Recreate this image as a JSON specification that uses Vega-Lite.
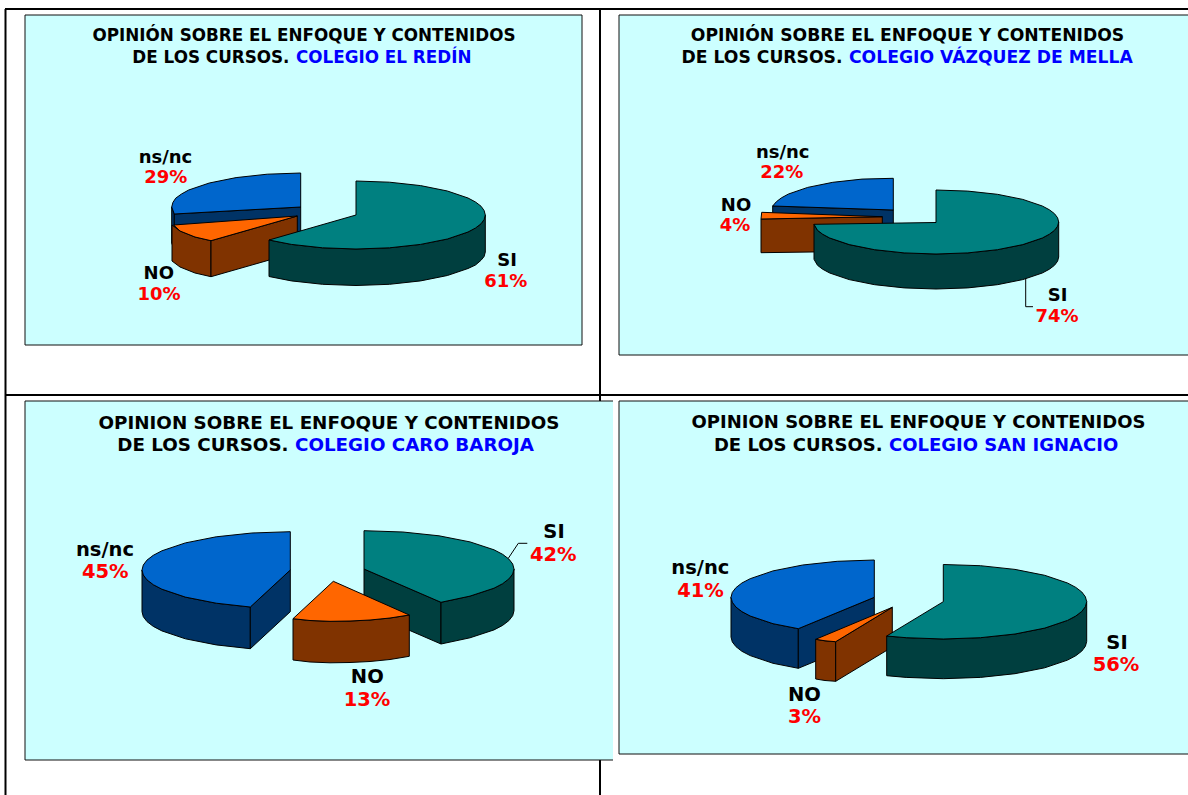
{"$schema":"https://vega.github.io/schema/vega-lite/v6.json","width":1188,"height":795,"autosize":{"type":"fit","contains":"padding"},"padding":0,"background":"#ffffff","config":{"view":{"stroke":null}},"resolve":{"scale":{"size":"independent"}},
"datasets":{
"grid":[{"x":5.5,"y":9,"x2":5.5,"y2":795},{"x":5,"y":9,"x2":1188,"y2":9},{"x":600,"y":9,"x2":600,"y2":402},{"x":5,"y":395,"x2":1188,"y2":395},{"x":600,"y":760,"x2":600,"y2":795}],
"panels":[{"panel":"El Redín","x":25,"y":15,"x2":582,"y2":345},{"panel":"Vázquez de Mella","x":619,"y":15,"x2":1188,"y2":355},{"panel":"Caro Baroja","x":25,"y":401,"x2":613,"y2":760},{"panel":"San Ignacio","x":619,"y":401,"x2":1188,"y2":754}],
"edges":[{"x":25,"y":15,"x2":582,"y2":15},{"x":582,"y":15,"x2":582,"y2":345},{"x":25,"y":345,"x2":582,"y2":345},{"x":25,"y":15,"x2":25,"y2":345},{"x":619,"y":15,"x2":1188,"y2":15},{"x":619,"y":15,"x2":619,"y2":355},{"x":619,"y":355,"x2":1188,"y2":355},{"x":25,"y":401,"x2":613,"y2":401},{"x":25,"y":401,"x2":25,"y2":760},{"x":25,"y":760,"x2":613,"y2":760},{"x":619,"y":401,"x2":1188,"y2":401},{"x":619,"y":401,"x2":619,"y2":754},{"x":619,"y":754,"x2":1188,"y2":754}],
"leaders":[{"x":1025.7,"y":278.3,"x2":1025.7,"y2":306.7},{"x":1025.7,"y":306.7,"x2":1033,"y2":306.7},{"x":508.3,"y":558.3,"x2":518.3,"y2":543.3},{"x":518.3,"y":543.3,"x2":527.3,"y2":543.3}],
"shapes":[
{"id":"A1","part":"ns/nc lado","o":1,"x":171.7,"y":207},{"id":"A1","part":"ns/nc lado","o":2,"x":174.3,"y":214},{"id":"A1","part":"ns/nc lado","o":3,"x":174.3,"y":250},{"id":"A1","part":"ns/nc lado","o":4,"x":171.7,"y":243},
{"id":"A2","part":"ns/nc lado","o":1,"x":174.3,"y":214},{"id":"A2","part":"ns/nc lado","o":2,"x":300.7,"y":207},{"id":"A2","part":"ns/nc lado","o":3,"x":300.7,"y":243},{"id":"A2","part":"ns/nc lado","o":4,"x":174.3,"y":250},
{"id":"A3","part":"ns/nc","o":1,"x":300.7,"y":207},{"id":"A3","part":"ns/nc","o":2,"x":300.7,"y":173},{"id":"A3","part":"ns/nc","o":3,"x":267.2,"y":174.2},{"id":"A3","part":"ns/nc","o":4,"x":236.1,"y":177.6},{"id":"A3","part":"ns/nc","o":5,"x":209.3,"y":183},{"id":"A3","part":"ns/nc","o":6,"x":188.7,"y":190},{"id":"A3","part":"ns/nc","o":7,"x":175.7,"y":198.2},{"id":"A3","part":"ns/nc","o":8,"x":171.7,"y":207},{"id":"A3","part":"ns/nc","o":9,"x":174.3,"y":214},
{"id":"A4","part":"NO lado","o":1,"x":172,"y":225},{"id":"A4","part":"NO lado","o":2,"x":180,"y":231},{"id":"A4","part":"NO lado","o":3,"x":195,"y":237},{"id":"A4","part":"NO lado","o":4,"x":211,"y":240.7},{"id":"A4","part":"NO lado","o":5,"x":211,"y":276.7},{"id":"A4","part":"NO lado","o":6,"x":195,"y":273},{"id":"A4","part":"NO lado","o":7,"x":180,"y":267},{"id":"A4","part":"NO lado","o":8,"x":172,"y":261},
{"id":"A5","part":"NO lado","o":1,"x":211,"y":240.7},{"id":"A5","part":"NO lado","o":2,"x":297.3,"y":216},{"id":"A5","part":"NO lado","o":3,"x":297.3,"y":252},{"id":"A5","part":"NO lado","o":4,"x":211,"y":276.7},
{"id":"A6","part":"NO","o":1,"x":297.3,"y":216},{"id":"A6","part":"NO","o":2,"x":173.7,"y":225},{"id":"A6","part":"NO","o":3,"x":180,"y":231},{"id":"A6","part":"NO","o":4,"x":195,"y":237},{"id":"A6","part":"NO","o":5,"x":211,"y":240.7},
{"id":"A7","part":"SI lado","o":1,"x":269,"y":240},{"id":"A7","part":"SI lado","o":2,"x":291.4,"y":244.4},{"id":"A7","part":"SI lado","o":3,"x":322.5,"y":247.8},{"id":"A7","part":"SI lado","o":4,"x":356,"y":249},{"id":"A7","part":"SI lado","o":5,"x":389.5,"y":247.8},{"id":"A7","part":"SI lado","o":6,"x":420.6,"y":244.4},{"id":"A7","part":"SI lado","o":7,"x":447.4,"y":239},{"id":"A7","part":"SI lado","o":8,"x":468,"y":232},{"id":"A7","part":"SI lado","o":9,"x":481,"y":223.8},{"id":"A7","part":"SI lado","o":10,"x":485.3,"y":215},{"id":"A7","part":"SI lado","o":11,"x":485.3,"y":252},{"id":"A7","part":"SI lado","o":12,"x":481,"y":260.3},{"id":"A7","part":"SI lado","o":13,"x":468,"y":268.5},{"id":"A7","part":"SI lado","o":14,"x":447.4,"y":275.5},{"id":"A7","part":"SI lado","o":15,"x":420.6,"y":280.9},{"id":"A7","part":"SI lado","o":16,"x":389.5,"y":284.3},{"id":"A7","part":"SI lado","o":17,"x":356,"y":285.5},{"id":"A7","part":"SI lado","o":18,"x":322.5,"y":284.3},{"id":"A7","part":"SI lado","o":19,"x":291.4,"y":280.9},{"id":"A7","part":"SI lado","o":20,"x":269,"y":276.5},
{"id":"A8","part":"SI","o":1,"x":356,"y":215},{"id":"A8","part":"SI","o":2,"x":356,"y":181},{"id":"A8","part":"SI","o":3,"x":389.5,"y":182.2},{"id":"A8","part":"SI","o":4,"x":420.6,"y":185.6},{"id":"A8","part":"SI","o":5,"x":447.4,"y":191},{"id":"A8","part":"SI","o":6,"x":468,"y":198},{"id":"A8","part":"SI","o":7,"x":481,"y":206.2},{"id":"A8","part":"SI","o":8,"x":485.3,"y":215},{"id":"A8","part":"SI","o":9,"x":481,"y":223.8},{"id":"A8","part":"SI","o":10,"x":468,"y":232},{"id":"A8","part":"SI","o":11,"x":447.4,"y":239},{"id":"A8","part":"SI","o":12,"x":420.6,"y":244.4},{"id":"A8","part":"SI","o":13,"x":389.5,"y":247.8},{"id":"A8","part":"SI","o":14,"x":356,"y":249},{"id":"A8","part":"SI","o":15,"x":322.5,"y":247.8},{"id":"A8","part":"SI","o":16,"x":291.4,"y":244.4},{"id":"A8","part":"SI","o":17,"x":269,"y":240},
{"id":"B1","part":"ns/nc lado","o":1,"x":772.7,"y":206},{"id":"B1","part":"ns/nc lado","o":2,"x":893.3,"y":210},{"id":"B1","part":"ns/nc lado","o":3,"x":893.3,"y":245},{"id":"B1","part":"ns/nc lado","o":4,"x":772.7,"y":241},
{"id":"B2","part":"ns/nc","o":1,"x":893.3,"y":210},{"id":"B2","part":"ns/nc","o":2,"x":893.3,"y":178.3},{"id":"B2","part":"ns/nc","o":3,"x":862,"y":179.1},{"id":"B2","part":"ns/nc","o":4,"x":832.8,"y":182.3},{"id":"B2","part":"ns/nc","o":5,"x":807.7,"y":187.4},{"id":"B2","part":"ns/nc","o":6,"x":788.5,"y":194},{"id":"B2","part":"ns/nc","o":7,"x":776.4,"y":201.7},{"id":"B2","part":"ns/nc","o":8,"x":772.7,"y":206},
{"id":"B3","part":"NO lado","o":1,"x":761,"y":219},{"id":"B3","part":"NO lado","o":2,"x":882.3,"y":216.7},{"id":"B3","part":"NO lado","o":3,"x":882.3,"y":251},{"id":"B3","part":"NO lado","o":4,"x":761,"y":252.7},
{"id":"B4","part":"NO","o":1,"x":882.3,"y":216.7},{"id":"B4","part":"NO","o":2,"x":761.7,"y":212.3},{"id":"B4","part":"NO","o":3,"x":761,"y":219},
{"id":"B5","part":"SI lado","o":1,"x":814,"y":224.3},{"id":"B5","part":"SI lado","o":2,"x":817.5,"y":230.3},{"id":"B5","part":"SI lado","o":3,"x":829.7,"y":238},{"id":"B5","part":"SI lado","o":4,"x":849.2,"y":244.6},{"id":"B5","part":"SI lado","o":5,"x":874.6,"y":249.7},{"id":"B5","part":"SI lado","o":6,"x":904.2,"y":252.9},{"id":"B5","part":"SI lado","o":7,"x":936,"y":254},{"id":"B5","part":"SI lado","o":8,"x":967.8,"y":252.9},{"id":"B5","part":"SI lado","o":9,"x":997.4,"y":249.7},{"id":"B5","part":"SI lado","o":10,"x":1022.8,"y":244.6},{"id":"B5","part":"SI lado","o":11,"x":1042.3,"y":238},{"id":"B5","part":"SI lado","o":12,"x":1054.5,"y":230.3},{"id":"B5","part":"SI lado","o":13,"x":1058.7,"y":222},{"id":"B5","part":"SI lado","o":14,"x":1058.7,"y":257},{"id":"B5","part":"SI lado","o":15,"x":1054.5,"y":265.3},{"id":"B5","part":"SI lado","o":16,"x":1042.3,"y":273},{"id":"B5","part":"SI lado","o":17,"x":1022.8,"y":279.6},{"id":"B5","part":"SI lado","o":18,"x":997.4,"y":284.7},{"id":"B5","part":"SI lado","o":19,"x":967.8,"y":287.9},{"id":"B5","part":"SI lado","o":20,"x":936,"y":289},{"id":"B5","part":"SI lado","o":21,"x":904.2,"y":287.9},{"id":"B5","part":"SI lado","o":22,"x":874.6,"y":284.7},{"id":"B5","part":"SI lado","o":23,"x":849.2,"y":279.6},{"id":"B5","part":"SI lado","o":24,"x":829.7,"y":273},{"id":"B5","part":"SI lado","o":25,"x":817.5,"y":265.3},{"id":"B5","part":"SI lado","o":26,"x":814,"y":259.3},
{"id":"B6","part":"SI","o":1,"x":936,"y":222.5},{"id":"B6","part":"SI","o":2,"x":936,"y":190},{"id":"B6","part":"SI","o":3,"x":967.8,"y":191.1},{"id":"B6","part":"SI","o":4,"x":997.4,"y":194.3},{"id":"B6","part":"SI","o":5,"x":1022.8,"y":199.4},{"id":"B6","part":"SI","o":6,"x":1042.3,"y":206},{"id":"B6","part":"SI","o":7,"x":1054.5,"y":213.7},{"id":"B6","part":"SI","o":8,"x":1058.7,"y":222},{"id":"B6","part":"SI","o":9,"x":1054.5,"y":230.3},{"id":"B6","part":"SI","o":10,"x":1042.3,"y":238},{"id":"B6","part":"SI","o":11,"x":1022.8,"y":244.6},{"id":"B6","part":"SI","o":12,"x":997.4,"y":249.7},{"id":"B6","part":"SI","o":13,"x":967.8,"y":252.9},{"id":"B6","part":"SI","o":14,"x":936,"y":254},{"id":"B6","part":"SI","o":15,"x":904.2,"y":252.9},{"id":"B6","part":"SI","o":16,"x":874.6,"y":249.7},{"id":"B6","part":"SI","o":17,"x":849.2,"y":244.6},{"id":"B6","part":"SI","o":18,"x":829.7,"y":238},{"id":"B6","part":"SI","o":19,"x":817.5,"y":230.3},{"id":"B6","part":"SI","o":20,"x":814,"y":224.3},
{"id":"C1","part":"ns/nc lado","o":1,"x":142,"y":570},{"id":"C1","part":"ns/nc lado","o":2,"x":147,"y":579.9},{"id":"C1","part":"ns/nc lado","o":3,"x":161.9,"y":589.2},{"id":"C1","part":"ns/nc lado","o":4,"x":185.4,"y":597.1},{"id":"C1","part":"ns/nc lado","o":5,"x":216.2,"y":603.2},{"id":"C1","part":"ns/nc lado","o":6,"x":250.3,"y":607},{"id":"C1","part":"ns/nc lado","o":7,"x":250.3,"y":648.7},{"id":"C1","part":"ns/nc lado","o":8,"x":216.2,"y":644.9},{"id":"C1","part":"ns/nc lado","o":9,"x":185.4,"y":638.8},{"id":"C1","part":"ns/nc lado","o":10,"x":161.9,"y":630.9},{"id":"C1","part":"ns/nc lado","o":11,"x":147,"y":621.6},{"id":"C1","part":"ns/nc lado","o":12,"x":142,"y":611.7},
{"id":"C2","part":"ns/nc lado","o":1,"x":250.3,"y":607},{"id":"C2","part":"ns/nc lado","o":2,"x":290.3,"y":570},{"id":"C2","part":"ns/nc lado","o":3,"x":290.3,"y":611.7},{"id":"C2","part":"ns/nc lado","o":4,"x":250.3,"y":648.7},
{"id":"C3","part":"ns/nc","o":1,"x":290.3,"y":570},{"id":"C3","part":"ns/nc","o":2,"x":290.3,"y":531.7},{"id":"C3","part":"ns/nc","o":3,"x":251.9,"y":533},{"id":"C3","part":"ns/nc","o":4,"x":216.2,"y":536.8},{"id":"C3","part":"ns/nc","o":5,"x":185.4,"y":542.9},{"id":"C3","part":"ns/nc","o":6,"x":161.9,"y":550.8},{"id":"C3","part":"ns/nc","o":7,"x":147,"y":560.1},{"id":"C3","part":"ns/nc","o":8,"x":142,"y":570},{"id":"C3","part":"ns/nc","o":9,"x":147,"y":579.9},{"id":"C3","part":"ns/nc","o":10,"x":161.9,"y":589.2},{"id":"C3","part":"ns/nc","o":11,"x":185.4,"y":597.1},{"id":"C3","part":"ns/nc","o":12,"x":216.2,"y":603.2},{"id":"C3","part":"ns/nc","o":13,"x":250.3,"y":607},
{"id":"C4","part":"SI lado","o":1,"x":364,"y":569},{"id":"C4","part":"SI lado","o":2,"x":441,"y":602.3},{"id":"C4","part":"SI lado","o":3,"x":441,"y":644},{"id":"C4","part":"SI lado","o":4,"x":364,"y":610.7},
{"id":"C5","part":"SI lado","o":1,"x":441,"y":602.3},{"id":"C5","part":"SI lado","o":2,"x":470,"y":596.1},{"id":"C5","part":"SI lado","o":3,"x":494,"y":588.2},{"id":"C5","part":"SI lado","o":4,"x":508.9,"y":578.9},{"id":"C5","part":"SI lado","o":5,"x":514,"y":569},{"id":"C5","part":"SI lado","o":6,"x":514,"y":610.7},{"id":"C5","part":"SI lado","o":7,"x":508.9,"y":620.6},{"id":"C5","part":"SI lado","o":8,"x":494,"y":629.9},{"id":"C5","part":"SI lado","o":9,"x":470,"y":637.8},{"id":"C5","part":"SI lado","o":10,"x":441,"y":644},
{"id":"C6","part":"SI","o":1,"x":364,"y":569},{"id":"C6","part":"SI","o":2,"x":364,"y":530.7},{"id":"C6","part":"SI","o":3,"x":402.9,"y":532},{"id":"C6","part":"SI","o":4,"x":439,"y":535.8},{"id":"C6","part":"SI","o":5,"x":470,"y":541.9},{"id":"C6","part":"SI","o":6,"x":494,"y":549.8},{"id":"C6","part":"SI","o":7,"x":508.9,"y":559.1},{"id":"C6","part":"SI","o":8,"x":514,"y":569},{"id":"C6","part":"SI","o":9,"x":508.9,"y":578.9},{"id":"C6","part":"SI","o":10,"x":494,"y":588.2},{"id":"C6","part":"SI","o":11,"x":470,"y":596.1},{"id":"C6","part":"SI","o":12,"x":441,"y":602.3},
{"id":"C7","part":"NO lado","o":1,"x":293,"y":618.7},{"id":"C7","part":"NO lado","o":2,"x":310,"y":620.5},{"id":"C7","part":"NO lado","o":3,"x":330,"y":621.3},{"id":"C7","part":"NO lado","o":4,"x":350,"y":621},{"id":"C7","part":"NO lado","o":5,"x":370,"y":620},{"id":"C7","part":"NO lado","o":6,"x":390,"y":618},{"id":"C7","part":"NO lado","o":7,"x":409.3,"y":615},{"id":"C7","part":"NO lado","o":8,"x":409.3,"y":656.3},{"id":"C7","part":"NO lado","o":9,"x":390,"y":659.5},{"id":"C7","part":"NO lado","o":10,"x":370,"y":661.5},{"id":"C7","part":"NO lado","o":11,"x":350,"y":662.5},{"id":"C7","part":"NO lado","o":12,"x":330,"y":662.8},{"id":"C7","part":"NO lado","o":13,"x":310,"y":662},{"id":"C7","part":"NO lado","o":14,"x":293,"y":660},
{"id":"C8","part":"NO","o":1,"x":333.3,"y":581.3},{"id":"C8","part":"NO","o":2,"x":293,"y":618.7},{"id":"C8","part":"NO","o":3,"x":310,"y":620.5},{"id":"C8","part":"NO","o":4,"x":330,"y":621.3},{"id":"C8","part":"NO","o":5,"x":350,"y":621},{"id":"C8","part":"NO","o":6,"x":370,"y":620},{"id":"C8","part":"NO","o":7,"x":390,"y":618},{"id":"C8","part":"NO","o":8,"x":409.3,"y":615},
{"id":"D1","part":"ns/nc lado","o":1,"x":731,"y":597.3},{"id":"D1","part":"ns/nc lado","o":2,"x":735.9,"y":607},{"id":"D1","part":"ns/nc lado","o":3,"x":750.2,"y":616},{"id":"D1","part":"ns/nc lado","o":4,"x":773,"y":623.7},{"id":"D1","part":"ns/nc lado","o":5,"x":798.3,"y":628.7},{"id":"D1","part":"ns/nc lado","o":6,"x":798.3,"y":668.3},{"id":"D1","part":"ns/nc lado","o":7,"x":773,"y":663.3},{"id":"D1","part":"ns/nc lado","o":8,"x":750.2,"y":655.6},{"id":"D1","part":"ns/nc lado","o":9,"x":735.9,"y":646.6},{"id":"D1","part":"ns/nc lado","o":10,"x":731,"y":637},
{"id":"D2","part":"ns/nc lado","o":1,"x":798.3,"y":628.7},{"id":"D2","part":"ns/nc lado","o":2,"x":874.3,"y":597.3},{"id":"D2","part":"ns/nc lado","o":3,"x":874.3,"y":637},{"id":"D2","part":"ns/nc lado","o":4,"x":798.3,"y":668.3},
{"id":"D3","part":"ns/nc","o":1,"x":874.3,"y":597.3},{"id":"D3","part":"ns/nc","o":2,"x":874.3,"y":560},{"id":"D3","part":"ns/nc","o":3,"x":837.2,"y":561.3},{"id":"D3","part":"ns/nc","o":4,"x":802.7,"y":565},{"id":"D3","part":"ns/nc","o":5,"x":773,"y":570.9},{"id":"D3","part":"ns/nc","o":6,"x":750.2,"y":578.7},{"id":"D3","part":"ns/nc","o":7,"x":735.9,"y":587.7},{"id":"D3","part":"ns/nc","o":8,"x":731,"y":597.3},{"id":"D3","part":"ns/nc","o":9,"x":735.9,"y":607},{"id":"D3","part":"ns/nc","o":10,"x":750.2,"y":616},{"id":"D3","part":"ns/nc","o":11,"x":773,"y":623.7},{"id":"D3","part":"ns/nc","o":12,"x":798.3,"y":628.7},
{"id":"D4","part":"NO lado","o":1,"x":815.7,"y":639.3},{"id":"D4","part":"NO lado","o":2,"x":825,"y":640.8},{"id":"D4","part":"NO lado","o":3,"x":835.7,"y":641.7},{"id":"D4","part":"NO lado","o":4,"x":835.7,"y":681.3},{"id":"D4","part":"NO lado","o":5,"x":825,"y":680.5},{"id":"D4","part":"NO lado","o":6,"x":815.7,"y":679},
{"id":"D5","part":"NO lado","o":1,"x":835.7,"y":641.7},{"id":"D5","part":"NO lado","o":2,"x":892.3,"y":607.3},{"id":"D5","part":"NO lado","o":3,"x":892.3,"y":647},{"id":"D5","part":"NO lado","o":4,"x":835.7,"y":681.3},
{"id":"D6","part":"NO","o":1,"x":892.3,"y":607.3},{"id":"D6","part":"NO","o":2,"x":815.7,"y":639.3},{"id":"D6","part":"NO","o":3,"x":825,"y":640.8},{"id":"D6","part":"NO","o":4,"x":835.7,"y":641.7},
{"id":"D7","part":"SI lado","o":1,"x":886.7,"y":636},{"id":"D7","part":"SI lado","o":2,"x":906.2,"y":637.7},{"id":"D7","part":"SI lado","o":3,"x":943.3,"y":639},{"id":"D7","part":"SI lado","o":4,"x":980.4,"y":637.7},{"id":"D7","part":"SI lado","o":5,"x":1015,"y":634},{"id":"D7","part":"SI lado","o":6,"x":1044.7,"y":628.1},{"id":"D7","part":"SI lado","o":7,"x":1067.5,"y":620.4},{"id":"D7","part":"SI lado","o":8,"x":1081.8,"y":611.4},{"id":"D7","part":"SI lado","o":9,"x":1086.7,"y":601.7},{"id":"D7","part":"SI lado","o":10,"x":1086.7,"y":641.4},{"id":"D7","part":"SI lado","o":11,"x":1081.8,"y":651.1},{"id":"D7","part":"SI lado","o":12,"x":1067.5,"y":660.1},{"id":"D7","part":"SI lado","o":13,"x":1044.7,"y":667.8},{"id":"D7","part":"SI lado","o":14,"x":1015,"y":673.7},{"id":"D7","part":"SI lado","o":15,"x":980.4,"y":677.4},{"id":"D7","part":"SI lado","o":16,"x":943.3,"y":678.7},{"id":"D7","part":"SI lado","o":17,"x":906.2,"y":677.4},{"id":"D7","part":"SI lado","o":18,"x":886.7,"y":675.7},
{"id":"D8","part":"SI","o":1,"x":943.3,"y":601.7},{"id":"D8","part":"SI","o":2,"x":943.3,"y":564.5},{"id":"D8","part":"SI","o":3,"x":980.4,"y":565.7},{"id":"D8","part":"SI","o":4,"x":1015,"y":569.4},{"id":"D8","part":"SI","o":5,"x":1044.7,"y":575.3},{"id":"D8","part":"SI","o":6,"x":1067.5,"y":583},{"id":"D8","part":"SI","o":7,"x":1081.8,"y":592},{"id":"D8","part":"SI","o":8,"x":1086.7,"y":601.7},{"id":"D8","part":"SI","o":9,"x":1081.8,"y":611.4},{"id":"D8","part":"SI","o":10,"x":1067.5,"y":620.4},{"id":"D8","part":"SI","o":11,"x":1044.7,"y":628.1},{"id":"D8","part":"SI","o":12,"x":1015,"y":634},{"id":"D8","part":"SI","o":13,"x":980.4,"y":637.7},{"id":"D8","part":"SI","o":14,"x":943.3,"y":639},{"id":"D8","part":"SI","o":15,"x":906.2,"y":637.7},{"id":"D8","part":"SI","o":16,"x":886.7,"y":636},
{"id":"A8","part":"SI","o":6.5,"x":475.5,"y":202},{"id":"A8","part":"SI","o":7.5,"x":484.1,"y":210.5},{"id":"A8","part":"SI","o":8.5,"x":484.1,"y":219.5},{"id":"A8","part":"SI","o":9.5,"x":475.5,"y":228},
{"id":"A7","part":"SI lado","o":8.5,"x":475.5,"y":228},{"id":"A7","part":"SI lado","o":9.5,"x":484.1,"y":219.5},{"id":"A7","part":"SI lado","o":11.5,"x":484.1,"y":256.5},{"id":"A7","part":"SI lado","o":12.5,"x":475.5,"y":265},
{"id":"A3","part":"ns/nc","o":6.5,"x":181.5,"y":194},{"id":"A3","part":"ns/nc","o":7.5,"x":172.9,"y":202.5},
{"id":"B6","part":"SI","o":6.5,"x":1049.4,"y":209.8},{"id":"B6","part":"SI","o":7.5,"x":1057.6,"y":217.8},{"id":"B6","part":"SI","o":8.5,"x":1057.6,"y":226.2},{"id":"B6","part":"SI","o":9.5,"x":1049.4,"y":234.2},{"id":"B6","part":"SI","o":18.5,"x":822.6,"y":234.2},
{"id":"B5","part":"SI lado","o":2.5,"x":822.6,"y":234.2},{"id":"B5","part":"SI lado","o":11.5,"x":1049.4,"y":234.2},{"id":"B5","part":"SI lado","o":12.5,"x":1057.6,"y":226.2},{"id":"B5","part":"SI lado","o":14.5,"x":1057.6,"y":261.2},{"id":"B5","part":"SI lado","o":15.5,"x":1049.4,"y":269.2},{"id":"B5","part":"SI lado","o":24.5,"x":822.6,"y":269.2},
{"id":"B2","part":"ns/nc","o":6.5,"x":781.5,"y":197.8},
{"id":"C6","part":"SI","o":6.5,"x":502.6,"y":554.3},{"id":"C6","part":"SI","o":7.5,"x":512.7,"y":564},{"id":"C6","part":"SI","o":8.5,"x":512.7,"y":574},{"id":"C6","part":"SI","o":9.5,"x":502.6,"y":583.7},
{"id":"C5","part":"SI lado","o":3.5,"x":502.6,"y":583.7},{"id":"C5","part":"SI lado","o":4.5,"x":512.7,"y":574},{"id":"C5","part":"SI lado","o":6.5,"x":512.7,"y":615.7},{"id":"C5","part":"SI lado","o":7.5,"x":502.6,"y":625.4},
{"id":"C3","part":"ns/nc","o":6.5,"x":153.3,"y":555.3},{"id":"C3","part":"ns/nc","o":7.5,"x":143.3,"y":565},{"id":"C3","part":"ns/nc","o":8.5,"x":143.3,"y":575},{"id":"C3","part":"ns/nc","o":9.5,"x":153.3,"y":584.7},
{"id":"C1","part":"ns/nc lado","o":1.5,"x":143.3,"y":575},{"id":"C1","part":"ns/nc lado","o":2.5,"x":153.3,"y":584.7},{"id":"C1","part":"ns/nc lado","o":10.5,"x":153.3,"y":626.4},{"id":"C1","part":"ns/nc lado","o":11.5,"x":143.3,"y":616.7},
{"id":"D8","part":"SI","o":6.5,"x":1075.8,"y":587.4},{"id":"D8","part":"SI","o":7.5,"x":1085.4,"y":596.8},{"id":"D8","part":"SI","o":8.5,"x":1085.4,"y":606.6},{"id":"D8","part":"SI","o":9.5,"x":1075.8,"y":616},
{"id":"D7","part":"SI lado","o":7.5,"x":1075.8,"y":616},{"id":"D7","part":"SI lado","o":8.5,"x":1085.4,"y":606.6},{"id":"D7","part":"SI lado","o":10.5,"x":1085.4,"y":646.3},{"id":"D7","part":"SI lado","o":11.5,"x":1075.8,"y":655.7},
{"id":"D3","part":"ns/nc","o":6.5,"x":741.9,"y":583},{"id":"D3","part":"ns/nc","o":7.5,"x":732.3,"y":592.4},{"id":"D3","part":"ns/nc","o":8.5,"x":732.3,"y":602.2},{"id":"D3","part":"ns/nc","o":9.5,"x":741.9,"y":611.6},
{"id":"D1","part":"ns/nc lado","o":1.5,"x":732.3,"y":602.2},{"id":"D1","part":"ns/nc lado","o":2.5,"x":741.9,"y":611.6},{"id":"D1","part":"ns/nc lado","o":8.5,"x":741.9,"y":651.3},{"id":"D1","part":"ns/nc lado","o":9.5,"x":732.3,"y":641.9}
],
"labels":[
{"panel":"A","kind":"categoria","text":"ns/nc","x":165.5,"y":163},{"panel":"A","kind":"valor","text":"29%","x":165.7,"y":183},{"panel":"A","kind":"categoria","text":"NO","x":158.8,"y":278.5},{"panel":"A","kind":"valor","text":"10%","x":159,"y":300},{"panel":"A","kind":"categoria","text":"SI","x":507,"y":266},{"panel":"A","kind":"valor","text":"61%","x":505.7,"y":287},
{"panel":"B","kind":"categoria","text":"ns/nc","x":782.7,"y":158.3},{"panel":"B","kind":"valor","text":"22%","x":781.7,"y":178},{"panel":"B","kind":"categoria","text":"NO","x":736,"y":211},{"panel":"B","kind":"valor","text":"4%","x":735,"y":231},{"panel":"B","kind":"categoria","text":"SI","x":1057.5,"y":300.7},{"panel":"B","kind":"valor","text":"74%","x":1057,"y":322},
{"panel":"C","kind":"categoria","text":"ns/nc","x":105,"y":556},{"panel":"C","kind":"valor","text":"45%","x":105.3,"y":578.3},{"panel":"C","kind":"categoria","text":"SI","x":554,"y":538.3},{"panel":"C","kind":"valor","text":"42%","x":553.3,"y":561},{"panel":"C","kind":"categoria","text":"NO","x":367.3,"y":683.3},{"panel":"C","kind":"valor","text":"13%","x":367,"y":705.7},
{"panel":"D","kind":"categoria","text":"ns/nc","x":700.3,"y":574},{"panel":"D","kind":"valor","text":"41%","x":700.5,"y":596.7},{"panel":"D","kind":"categoria","text":"NO","x":804.5,"y":701},{"panel":"D","kind":"valor","text":"3%","x":804.5,"y":722.7},{"panel":"D","kind":"categoria","text":"SI","x":1117,"y":649},{"panel":"D","kind":"valor","text":"56%","x":1116,"y":671}
],
"titles":[
{"panel":"A","text":"OPINIÓN SOBRE EL ENFOQUE Y CONTENIDOS","x":304,"y":41},{"panel":"B","text":"OPINIÓN SOBRE EL ENFOQUE Y CONTENIDOS","x":907.5,"y":41},{"panel":"C","text":"OPINION SOBRE EL ENFOQUE Y CONTENIDOS","x":329,"y":429},{"panel":"D","text":"OPINION SOBRE EL ENFOQUE Y CONTENIDOS","x":918.5,"y":428}
],
"sub1":[{"panel":"A","text":"DE LOS CURSOS.","x":289.5,"y":63},{"panel":"B","text":"DE LOS CURSOS.","x":842.5,"y":63},{"panel":"C","text":"DE LOS CURSOS.","x":288.5,"y":451},{"panel":"D","text":"DE LOS CURSOS.","x":882.5,"y":451}],
"sub2":[{"panel":"A","text":"COLEGIO EL REDÍN","x":296,"y":63},{"panel":"B","text":"COLEGIO VÁZQUEZ DE MELLA","x":849,"y":63},{"panel":"C","text":"COLEGIO CARO BAROJA","x":295,"y":451},{"panel":"D","text":"COLEGIO SAN IGNACIO","x":889,"y":451}]
},
"encoding":{"x":{"field":"x","type":"quantitative","scale":{"domain":[0,1188],"nice":false,"zero":false},"axis":null},"y":{"field":"y","type":"quantitative","scale":{"domain":[795,0],"nice":false,"zero":false},"axis":null}},
"layer":[
{"data":{"name":"grid"},"mark":{"type":"rule","stroke":"#000000","strokeWidth":2,"clip":true},"encoding":{"x2":{"field":"x2"},"y2":{"field":"y2"}}},
{"data":{"name":"panels"},"mark":{"type":"rect","fill":"#CCFFFF","clip":true},"encoding":{"x2":{"field":"x2"},"y2":{"field":"y2"}}},
{"data":{"name":"edges"},"mark":{"type":"rule","stroke":"#111111","strokeWidth":1,"clip":true},"encoding":{"x2":{"field":"x2"},"y2":{"field":"y2"}}},
{"data":{"name":"shapes"},"mark":{"type":"line","interpolate":"linear-closed","stroke":"#000000","strokeWidth":1,"strokeJoin":"round"},"encoding":{"detail":{"field":"id"},"order":{"field":"o","type":"quantitative"},"fill":{"field":"part","type":"nominal","legend":null,"scale":{"domain":["SI","SI lado","NO","NO lado","ns/nc","ns/nc lado"],"range":["#008080","#003F3F","#FF6600","#803300","#0066CC","#003366"]}}}},
{"data":{"name":"leaders"},"mark":{"type":"rule","stroke":"#000000","strokeWidth":1},"encoding":{"x2":{"field":"x2"},"y2":{"field":"y2"}}},
{"data":{"name":"labels"},"mark":{"type":"text","font":"DejaVu Sans","fontWeight":"bold","align":"center","baseline":"alphabetic"},"encoding":{"text":{"field":"text"},"color":{"field":"kind","type":"nominal","legend":null,"scale":{"domain":["categoria","valor"],"range":["#000000","#FF0000"]}},"size":{"field":"panel","type":"ordinal","legend":null,"scale":{"type":"ordinal","domain":["A","B","C","D"],"range":[18,18,19.5,19.5]}}}},
{"data":{"name":"titles"},"mark":{"type":"text","font":"DejaVu Sans","fontWeight":"bold","align":"center","baseline":"alphabetic","color":"#000000"},"encoding":{"text":{"field":"text"},"size":{"field":"panel","type":"ordinal","legend":null,"scale":{"type":"ordinal","domain":["A","B","C","D"],"range":[16.8,17.2,18.3,18]}}}},
{"data":{"name":"sub1"},"mark":{"type":"text","font":"DejaVu Sans","fontWeight":"bold","align":"right","baseline":"alphabetic","color":"#000000"},"encoding":{"text":{"field":"text"},"size":{"field":"panel","type":"ordinal","legend":null,"scale":{"type":"ordinal","domain":["A","B","C","D"],"range":[16.8,17.2,18.3,18]}}}},
{"data":{"name":"sub2"},"mark":{"type":"text","font":"DejaVu Sans","fontWeight":"bold","align":"left","baseline":"alphabetic","color":"#0000FF"},"encoding":{"text":{"field":"text"},"size":{"field":"panel","type":"ordinal","legend":null,"scale":{"type":"ordinal","domain":["A","B","C","D"],"range":[16.8,17.2,18.3,18]}}}}
]}
